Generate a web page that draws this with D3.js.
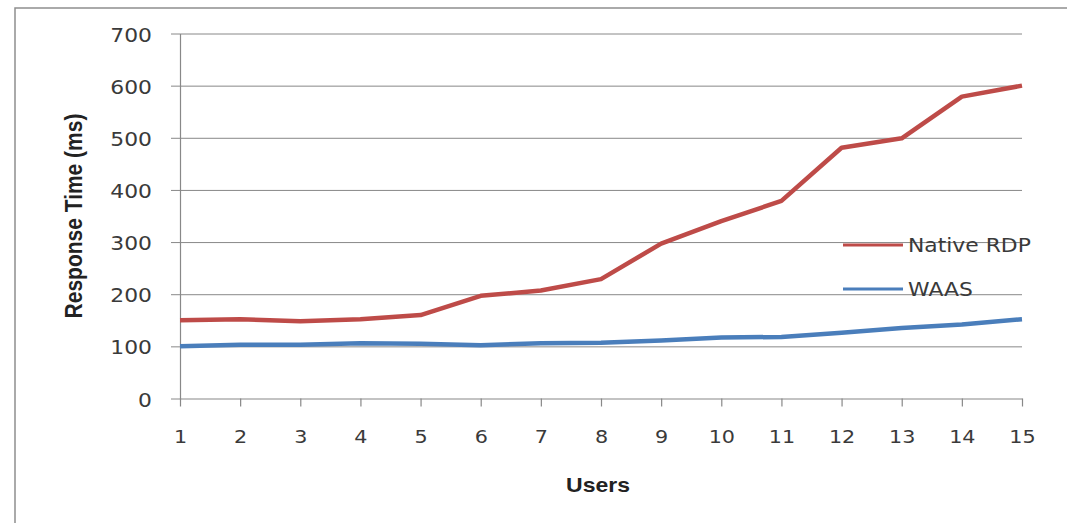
<!DOCTYPE html>
<html>
<head>
<meta charset="utf-8">
<script src="https://cdn.jsdelivr.net/npm/d3@7"></script>
<style>
  html, body { margin: 0; padding: 0; background: #fff; overflow: hidden; }
  svg { display: block; }
  .stretch { transform-box: fill-box; transform: scaleX(1.15); }
</style>
</head>
<body>
<script>
const users = [1, 2, 3, 4, 5, 6, 7, 8, 9, 10, 11, 12, 13, 14, 15];
const nativeRdp = [150, 152, 148, 152, 160, 197, 207, 229, 297, 340, 379, 481, 499, 579, 600];
const waas = [100, 103, 103, 106, 105, 102, 106, 107, 111, 117, 118, 126, 135, 142, 152];
const yTicks = [0, 100, 200, 300, 400, 500, 600, 700];
const seriesNames = ["Native RDP", "WAAS"];
const seriesColors = ["#be4b48", "#4a7ebb"];

const W = 1067, H = 523;
const svg = d3.select("body").append("svg").attr("width", W).attr("height", H);

// outer chart border (extends beyond the photographed region on right/bottom)
svg.append("rect").attr("x", 15).attr("y", 8).attr("width", 1200).attr("height", 700)
  .attr("fill", "none").attr("stroke", "#8e8e8e").attr("stroke-width", 1.5);

const x = d3.scaleLinear().domain([1, 15]).range([180, 1022]);
const y = d3.scaleLinear().domain([0, 700]).range([398.5, 33.5]);

const textColor = "#3a3a3a";
const gridColor = "#888";

// gridlines
const grid = svg.append("g").attr("transform", `translate(${x.range()[0]},0)`)
  .call(d3.axisLeft(y).tickValues(yTicks.slice(1)).tickSize(-(x.range()[1] - x.range()[0])).tickFormat(""));
grid.select(".domain").remove();
grid.selectAll("line").attr("stroke", gridColor).attr("stroke-width", 1);

// y axis
const yAxis = svg.append("g").attr("transform", `translate(${x.range()[0]},0)`)
  .call(d3.axisLeft(y).tickValues(yTicks).tickSize(9).tickSizeOuter(0).tickPadding(19));
yAxis.select(".domain").attr("stroke", gridColor).attr("stroke-width", 1.2);
yAxis.selectAll("line").attr("stroke", gridColor).attr("stroke-width", 1);
yAxis.selectAll("text").attr("font-family", "'DejaVu Sans', Verdana, sans-serif")
  .attr("font-size", 19).attr("fill", textColor).attr("dy", "0.4em")
  .attr("class", "stretch").style("transform-origin", "right center");

// x axis
const xAxis = svg.append("g").attr("transform", `translate(0,${y(0)})`)
  .call(d3.axisBottom(x).tickValues(users).tickSize(8).tickSizeOuter(0).tickPadding(24).tickFormat(d3.format("d")));
xAxis.select(".domain").attr("stroke", gridColor).attr("stroke-width", 1.2);
xAxis.selectAll("line").attr("stroke", gridColor).attr("stroke-width", 1.2);
xAxis.selectAll("text").attr("font-family", "'DejaVu Sans', Verdana, sans-serif")
  .attr("font-size", 18).attr("fill", textColor).attr("dy", "0.71em")
  .attr("class", "stretch").style("transform-origin", "center center");

// series lines
const line = d3.line().x((d, i) => x(users[i])).y(d => y(d));
[nativeRdp, waas].forEach((vals, k) => {
  svg.append("path").datum(vals).attr("d", line)
    .attr("fill", "none").attr("stroke", seriesColors[k]).attr("stroke-width", 4.5)
    .attr("stroke-linejoin", "round").attr("stroke-linecap", "butt");
});

// legend
const legendY = [245, 289];
seriesNames.forEach((name, k) => {
  const g = svg.append("g");
  g.append("line").attr("x1", 843).attr("x2", 903).attr("y1", legendY[k]).attr("y2", legendY[k])
    .attr("stroke", seriesColors[k]).attr("stroke-width", 3);
  g.append("text").attr("x", 908).attr("y", legendY[k] + 7.5)
    .attr("font-family", "'DejaVu Sans', Verdana, sans-serif").attr("font-size", 19)
    .attr("fill", textColor).attr("class", "stretch").style("transform-origin", "left center")
    .text(name);
});

// axis titles
svg.append("text").attr("x", 598).attr("y", 492).attr("text-anchor", "middle")
  .attr("font-family", "'Liberation Sans', Arial, sans-serif").attr("font-weight", "bold")
  .attr("font-size", 20).attr("fill", "#222").attr("class", "stretch")
  .style("transform-origin", "center center").text("Users");

svg.append("g").attr("transform", "translate(82,216) scale(1.15,1)")
  .append("text").attr("transform", "rotate(-90)").attr("text-anchor", "middle")
  .attr("font-family", "'Liberation Sans Narrow', 'Liberation Sans', Arial, sans-serif").attr("font-weight", "bold")
  .attr("font-size", 21).attr("fill", "#222").text("Response Time (ms)");
</script>
</body>
</html>
